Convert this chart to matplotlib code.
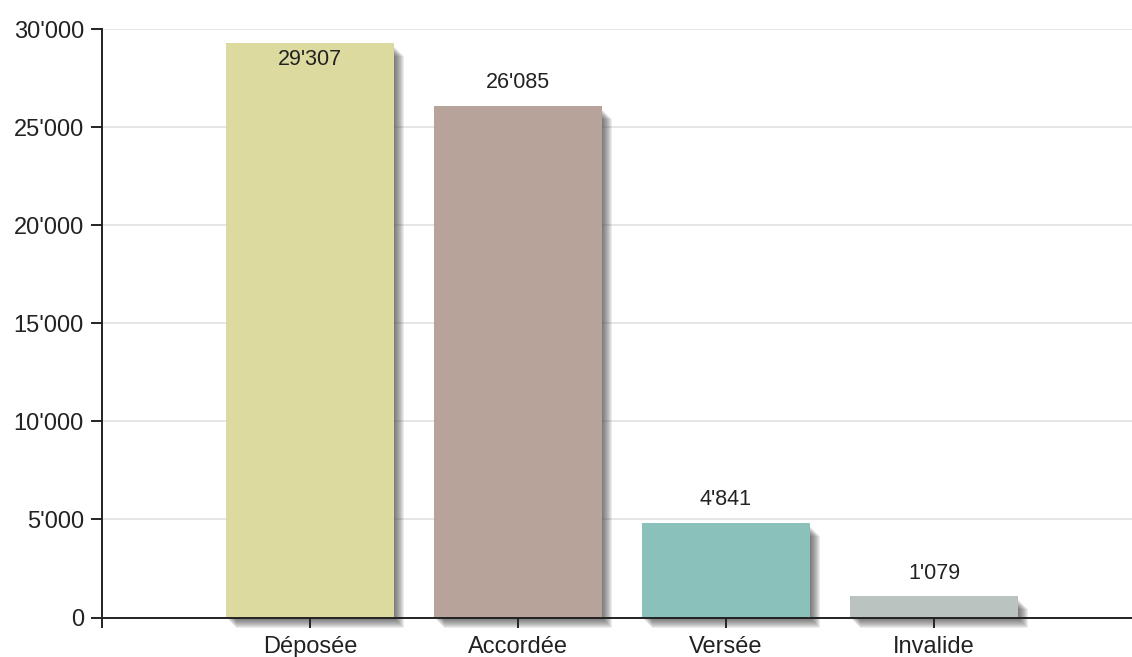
import matplotlib
matplotlib.use("Agg")
import matplotlib.pyplot as plt
from matplotlib.patches import Rectangle
from matplotlib.ticker import FuncFormatter

plt.rcParams['font.family'] = ['Liberation Sans', 'DejaVu Sans']

categories = ['Déposée', 'Accordée', 'Versée', 'Invalide']
values = [29307, 26085, 4841, 1079]
colors = ['#DCDA9E', '#B8A39B', '#8AC1BB', '#BAC3BF']

W, H = 1132, 657
fig = plt.figure(figsize=(W / 100, H / 100), dpi=100)
ax = fig.add_axes([102 / W, (H - 617.5) / H, 1 - 102 / W, (617.5 - 29) / H])

xmin, xmax = -1.0, (W - 310) / 208
ymin, ymax = 0, 30000
ax.set_xlim(xmin, xmax)
ax.set_ylim(ymin, ymax)

# pixel -> data unit conversions for the shadow
px_x = (xmax - xmin) / (W - 102)
px_y = (ymax - ymin) / (617.5 - 29)

bar_w = 0.808
xs = list(range(len(categories)))
ax.bar(xs, values, width=bar_w, color=colors, zorder=3)

# soft drop shadow
for x, v in zip(xs, values):
    for k in range(1, 11):
        r = Rectangle((x - bar_w / 2 + k * px_x, -k * px_y), bar_w, v - 3 * px_y,
                      facecolor='#333333', alpha=0.09, lw=0,
                      zorder=2, clip_on=False)
        ax.add_patch(r)

# value labels
for x, v in zip(xs, values):
    txt = f"{v:,}".replace(",", "'")
    if v + 23 * px_y > ymax:
        dy = -17
    else:
        dy = 23
    ax.annotate(txt, (x, v), xytext=(0, dy), textcoords='offset pixels',
                ha='center', va='center', fontsize=15.5, color='#222222',
                zorder=5)

ax.set_yticks(range(0, 30001, 5000))
ax.yaxis.set_major_formatter(FuncFormatter(lambda v, p: f"{int(v):,}".replace(",", "'")))
ax.set_xticks(xs)
ax.set_xticklabels(categories)
ax.set_xticks([xmin], minor=True)

ax.grid(axis='y', color='#E0E0E0', linewidth=1.2, zorder=0)
ax.set_axisbelow(True)

for s in ['top', 'right']:
    ax.spines[s].set_visible(False)
for s in ['left', 'bottom']:
    ax.spines[s].set_color('#222222')
    ax.spines[s].set_linewidth(1.4)
    ax.spines[s].set_zorder(4)

ax.tick_params(axis='y', length=8, width=1.4, color='#222222', pad=5,
               labelsize=17, labelcolor='#222222')
ax.tick_params(axis='x', which='both', length=7, width=1.4, color='#222222',
               pad=6, labelsize=17, labelcolor='#222222')

fig.savefig('out.png', dpi=100)
